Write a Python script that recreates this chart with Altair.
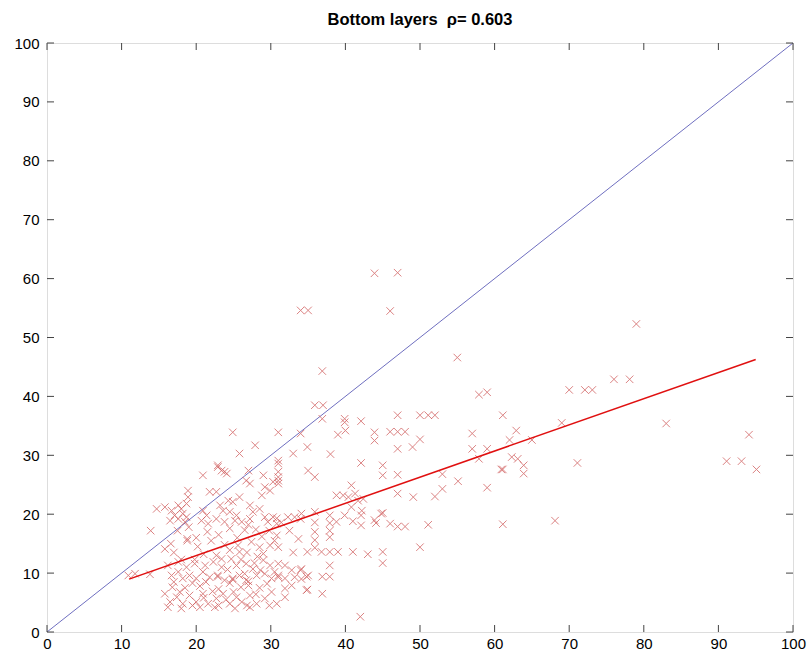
import altair as alt
import pandas as pd

# ---- data ----
pts = [
    # sparse / upper points
    (43.9, 60.9), (47, 61), (34, 54.6), (35, 54.6), (46, 54.5), (36.9, 44.3), (55, 46.6), (79, 52.3),
    (70, 41.1), (72.1, 41.1), (73.1, 41.1), (76, 42.9), (78.1, 42.9), (83, 35.4), (94.1, 33.5),
    (91.1, 29), (93.1, 29), (95.1, 27.6), (71.1, 28.7), (68.1, 18.9), (69, 35.5),
    (61.1, 36.8), (62.9, 34.2), (62, 32.6), (65, 32.6), (62.3, 29.7), (63.1, 29.4), (63.9, 28.3),
    (63.9, 26.9), (61.1, 27.6), (61.1, 18.3), (57.9, 40.3), (59, 40.7),
    (50, 36.8), (51.1, 36.8), (52, 36.8), (47, 36.8), (46, 34), (47, 34), (48, 34),
    (50, 32.7), (49, 31.4), (47, 31.1), (57, 33.7), (57, 31.1), (59, 31.1), (57.9, 29.4), (60.9, 27.6),
    (53, 26.8), (55.1, 25.6), (53, 24.3), (52, 23), (49.1, 22.9), (47, 23.5), (59, 24.5),
    (48, 17.9), (51.1, 18.2), (50, 14.4), (47, 26.7), (45, 28.3), (45, 26.6),
    (42.1, 35.8), (39.9, 36.2), (39.9, 35.6), (36.9, 36.2), (35.9, 38.5), (37, 38.5),
    (39, 33.5), (40, 34.2), (43.9, 33.9), (43.9, 32.5), (34.9, 31.4), (34, 33.7), (31, 33.9),
    (38, 30.2), (42.1, 28.7), (33, 30.3), (31, 28.6), (35, 27.4), (35.9, 26.3), (31, 25.7), (40.8, 24.9),
    (38.8, 23.2), (39.7, 23.2), (40.4, 22.9), (41.3, 23.5), (41.7, 22.3), (42.4, 22.6),
    (40.8, 21.2), (42.2, 20.6), (34.1, 20.1), (33.2, 19.5), (44.8, 20.1), (32.3, 19.5), (35.9, 20.4),
    (34, 19.2), (35.9, 18.6), (35.9, 17), (35.9, 15.6), (35.9, 14.3),
    (37.9, 19.8), (37.9, 18.5), (37.9, 17.2), (37.9, 16.1),
    (38.8, 18.7), (39.9, 19.8), (41, 18.8), (42.1, 19.8), (42.1, 18.1), (44.1, 18.5), (45, 20.2),
    (46, 18.4), (47, 17.9), (30.8, 19.3), (31.4, 18.6), (43.9, 19),
    (34.9, 13.6), (36.8, 13.6), (37.9, 13.6), (39, 13.6), (41, 13.6), (43, 13.2), (45, 13.6),
    (45, 11.7), (37.9, 11.3), (34, 10.5), (34.8, 9.4), (36.9, 9.4), (37.9, 9.4), (34.9, 7.2),
    (36.9, 6.5), (42, 2.6),
    (32.5, 17.2), (33.7, 15.8), (31, 14.4), (33, 13.5), (31.9, 11.3), (31, 9.6), (31.9, 9.1),
    (32.8, 10.5), (33.2, 9.3), (34.1, 10.7), (34.1, 9.0), (35, 9.6), (31.9, 7.4), (32.8, 7.9),
    (31.9, 5.9), (34.8, 7.1),
    # upper-left cloud
    (24.9, 33.9), (27.9, 31.7), (25.8, 30.3), (22.9, 28), (23.4, 27.4), (24.1, 26.9), (20.9, 26.6),
    (27, 27.4), (26.7, 25.7), (29, 26.6), (30.3, 25.5), (31, 25.2), (29.9, 24), (29.2, 24.6),
    (27.2, 25.2), (28.8, 23.2), (25.8, 22.9), (24.3, 22.3), (24.9, 22.1), (21.8, 23.8), (22.7, 23.8),
    (18.9, 24), (18.9, 22.9), (18.7, 21.8), (17.6, 21.5), (18, 20.9), (14.7, 20.9), (15.8, 21.2),
    (16.7, 20.6), (17.1, 19.8), (18.2, 20.1), (18.7, 19.5), (20.9, 20.6), (21.4, 19.8), (23.2, 21.5),
    (23.6, 20.6), (24.5, 20.4), (25.4, 19.8), (27.2, 21.5), (27.6, 20.4), (28.5, 20.9), (29.2, 19.5),
    (30.3, 19.5), (31, 29.1), (31, 27.2), (31, 26.3), (22.9, 28.3), (23.8, 27.2),
    # lower-left cloud
    (10.9, 9.6), (11.8, 9.9), (13.8, 9.8), (13.9, 17.2), (15.8, 14.1), (16.6, 15), (18.8, 15.8),
    (18.8, 15.5),
    (16.5, 18.9), (17.6, 19.2), (18.5, 18.7), (20.7, 18.9), (21.6, 18.4), (22.7, 19.2), (23.8, 18.7),
    (25.2, 18.9), (26.1, 18.7), (27.2, 19.2), (28, 17.4), (29.6, 18.7), (30.8, 18.4),
    (22.7, 13), (23.4, 12.4), (24.5, 13.9), (24.7, 12.4), (25.6, 14.7), (25.8, 13.6),
    (27.4, 15.3), (28.5, 14.4), (29, 13.3), (29, 12.2), (29.9, 14.7), (30.8, 16.4),
    (21.5, 17), (23, 16.5), (24.5, 17.6), (25.5, 16), (26.5, 17.3), (29.8, 17.2), (30.5, 15.5),
    (22, 15.5), (26.8, 13.5), (28.2, 12.8),
    (16.7, 9.6), (17.6, 10.2), (18.2, 9.1), (19.1, 9.6), (20, 9.1), (20.9, 10.2), (21.8, 9.3),
    (22.9, 9.6), (23.8, 8.8), (24.9, 9.1), (25.8, 9.6), (26.7, 8.8), (27, 7.9), (28.1, 9.6),
    (29.2, 9.9), (30.1, 9.1), (31, 9.3), (22.9, 9.4), (24.9, 8.9), (27, 8.6),
    (15.8, 6.5), (16.5, 5.1), (17.4, 5.9), (18.2, 4.8), (19.1, 6.2), (20, 5.1), (20.9, 6.5),
    (21.6, 4.8), (22.7, 5.7), (23.6, 6.5), (24.5, 4.8), (25.4, 5.9), (26.1, 5.1), (27.2, 6.2),
    (28.1, 4.8), (29.2, 5.7), (30.1, 6.8), (30.8, 4.8),
    (16.2, 4.2), (18, 4), (20.5, 4.2), (22.5, 4.2), (25.2, 4), (27.2, 4.2),
    (16.2, 11.3), (17.6, 11.9), (18.7, 11), (19.8, 11.6), (21.2, 11.3), (22.3, 11.9), (23.4, 11),
    (25.4, 11.3), (26.7, 11.6), (27.6, 10.7), (29.9, 11.3), (31, 11.6),
    (24.5, 8.3), (26, 7.6), (28.5, 7.5), (23, 7.3), (20.5, 7.8), (18.5, 7.5), (16.8, 7.6), (29.5, 8.2),
    (17, 8.5), (19.5, 8.3), (21.3, 8.5), (22.2, 6.9), (24, 5.5), (25, 6.8), (26.5, 9.9), (28, 6.4),
    (29.8, 4.5), (19.5, 4.5), (21, 5.8), (23, 4.5), (26.8, 4.5), (17.8, 6.8), (28.6, 10.5),
    (30.5, 10.2), (19.8, 12.3), (21, 13.2), (17, 13.5), (18, 12.3), (20.2, 14.5), (23.8, 14.8),
    (24.2, 10.6), (26, 12.3), (27.8, 11.7), (20, 16), (17.5, 17.2), (19, 17.8), (27, 18.2), (28.8, 16.2),
]
xs = [p[0] for p in pts]
ys = [p[1] for p in pts]

diag_x = [0, 100]
diag_y = [0, 100]
fit_x = [11, 95]
fit_y = [8.97, 46.27]
tick_values = list(range(0, 101, 10))

# ---- layout ----
W, H = 746, 589
TICK_PX = 7
dx = TICK_PX * 100 / W
dy = TICK_PX * 100 / H

scat = pd.DataFrame({"x": xs, "y": ys})
diag = pd.DataFrame({"x": diag_x, "y": diag_y})
fit = pd.DataFrame({"x": fit_x, "y": fit_y})

xscale = alt.Scale(domain=[0, 100], nice=False, zero=False)
yscale = alt.Scale(domain=[0, 100], nice=False, zero=False)
axis_common = dict(values=tick_values, tickSize=0, grid=False, domain=False,
                   labelFont="Liberation Sans", labelFontSize=15, labelColor="black",
                   title=None, labelFlush=False)
xaxis = alt.Axis(labelPadding=4, **axis_common)
yaxis = alt.Axis(labelPadding=8, **axis_common)
X = alt.X("x:Q", scale=xscale, axis=xaxis)
Y = alt.Y("y:Q", scale=yscale, axis=yaxis)

cross = "M-1,-1L1,1M-1,1L1,-1"
points = alt.Chart(scat).mark_point(shape=cross, filled=False, size=56, strokeWidth=1,
                                    color="#d05a5a", opacity=0.75).encode(x=X, y=Y)
diag_line = alt.Chart(diag).mark_line(color="#6f6fc0", strokeWidth=1).encode(x=X, y=Y)
fit_line = alt.Chart(fit).mark_line(color="#e01010", strokeWidth=1.5).encode(x=X, y=Y)

tv = pd.DataFrame({"v": tick_values})
tick_style = dict(color="#444444", strokeWidth=1)
VX = alt.X("v:Q", scale=xscale, axis=xaxis)
VY = alt.Y("v:Q", scale=yscale, axis=yaxis)
bottom = alt.Chart(tv).mark_rule(**tick_style).encode(x=VX, y=alt.datum(0), y2=alt.datum(dy))
top = alt.Chart(tv).mark_rule(**tick_style).encode(x=VX, y=alt.datum(100 - dy), y2=alt.datum(100))
left = alt.Chart(tv).mark_rule(**tick_style).encode(y=VY, x=alt.datum(0), x2=alt.datum(dx))
right = alt.Chart(tv).mark_rule(**tick_style).encode(y=VY, x=alt.datum(100 - dx), x2=alt.datum(100))

chart = alt.layer(diag_line, points, fit_line, bottom, top, left, right).properties(
    width=W, height=H,
    autosize=alt.AutoSizeParams(type="none"),
    padding={"left": 47, "top": 43, "right": 17, "bottom": 20},
    title=alt.TitleParams("Bottom layers\u00a0 \u03c1= 0.603", font="Liberation Sans", fontSize=16.5,
                          fontWeight="bold", anchor="middle", offset=8, color="black"),
).configure_view(stroke="#444444", strokeWidth=1.2).configure(background="white")

chart.save("out.html", embed_options={"renderer": "svg", "actions": False})
